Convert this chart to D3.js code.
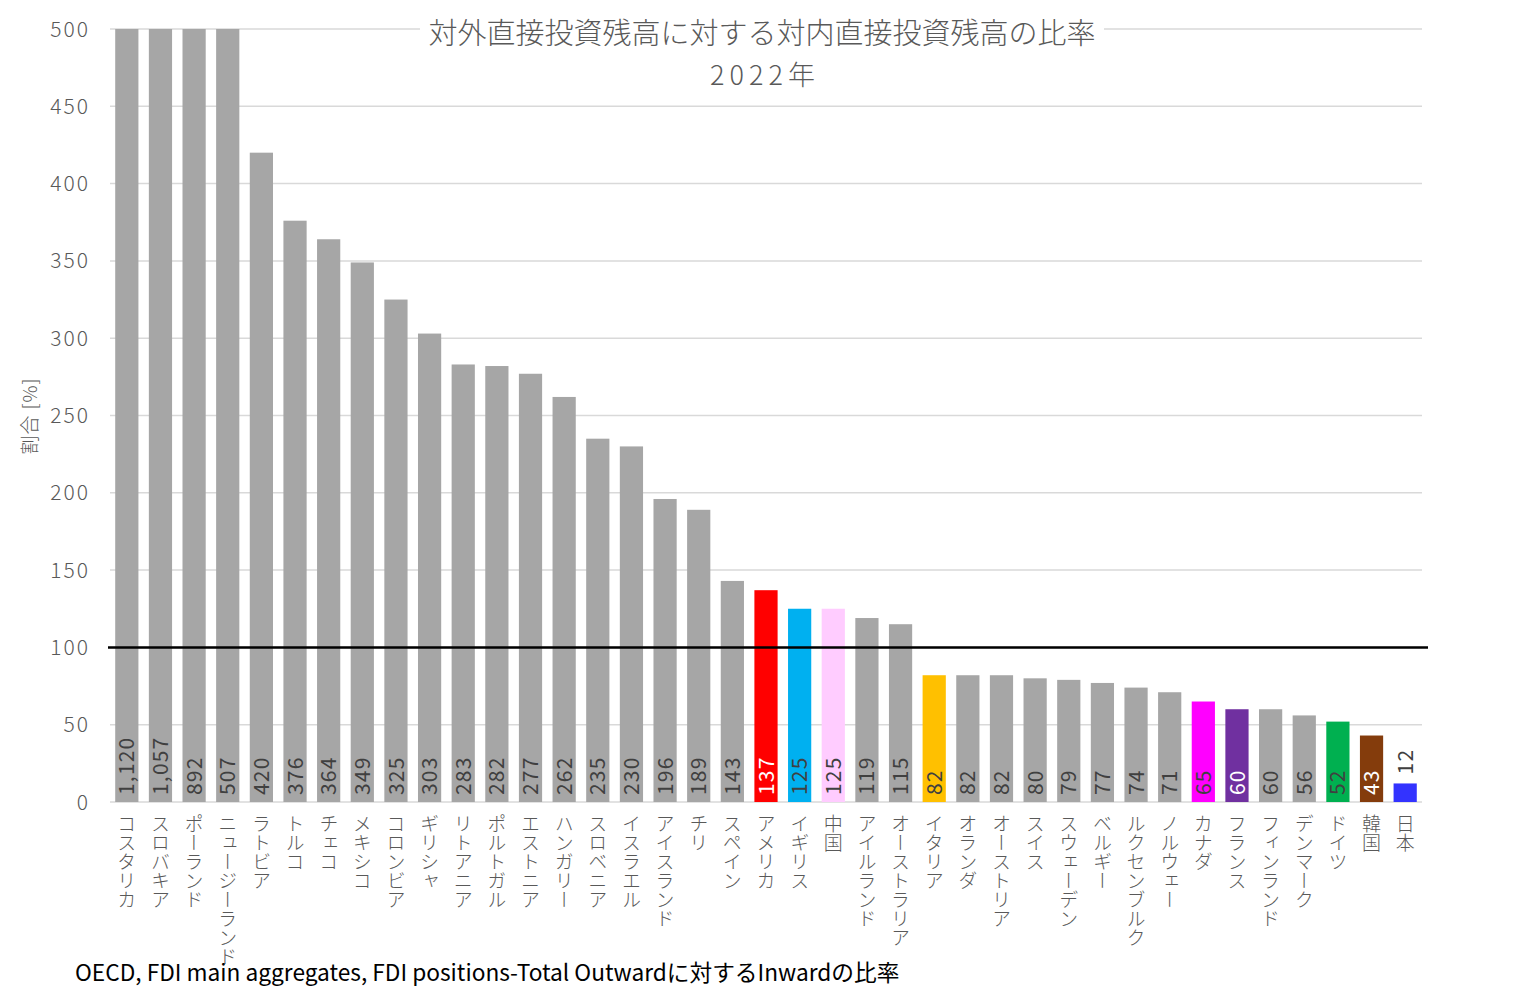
<!DOCTYPE html>
<html><head><meta charset="utf-8">
<script src="https://cdn.jsdelivr.net/npm/d3@7"></script>
<style>
html,body{margin:0;padding:0;background:#fff;}
svg text{font-family:"Noto Sans CJK JP","Noto Sans",sans-serif;font-weight:300;}
</style></head>
<body><svg id="c" width="1526" height="997"></svg>
<script>
const categories=["コスタリカ","スロバキア","ポーランド","ニュージーランド","ラトビア","トルコ","チェコ","メキシコ","コロンビア","ギリシャ","リトアニア","ポルトガル","エストニア","ハンガリー","スロベニア","イスラエル","アイスランド","チリ","スペイン","アメリカ","イギリス","中国","アイルランド","オーストラリア","イタリア","オランダ","オーストリア","スイス","スウェーデン","ベルギー","ルクセンブルク","ノルウェー","カナダ","フランス","フィンランド","デンマーク","ドイツ","韓国","日本"];
const values=[1120,1057,892,507,420,376,364,349,325,303,283,282,277,262,235,230,196,189,143,137,125,125,119,115,82,82,82,80,79,77,74,71,65,60,60,56,52,43,12];
const highlightNames=["アメリカ","イギリス","中国","イタリア","カナダ","フランス","ドイツ","韓国","日本"];
const highlightColors=["#FF0000","#00B0F0","#FFCCFF","#FFC000","#FF00FF","#7030A0","#00B050","#843C0C","#3333FF"];
const whiteLabelNames=["アメリカ","フランス","韓国"];
const yTicks=[0,50,100,150,200,250,300,350,400,450,500];
const title1="対外直接投資残高に対する対内直接投資残高の比率";
const title2="2022年";
const yLabel="割合 [%]";
const source="OECD, FDI main aggregates, FDI positions-Total Outwardに対するInwardの比率";
const refLine=100;

const svg=d3.select("#c");
const L=110,R=1422,T=29,B=802;
const x=d3.scaleBand().domain(categories).range([L,R]).paddingInner(0.31).paddingOuter(0.155);
const y=d3.scaleLinear().domain([0,500]).range([B,T]).clamp(true);
const colorOf=d=>{const i=highlightNames.indexOf(d);return i>=0?highlightColors[i]:"#A6A6A6";};

// gridlines
svg.append("g").selectAll("line").data(yTicks).join("line")
 .attr("x1",L).attr("x2",R).attr("y1",d=>y(d)).attr("y2",d=>y(d))
 .attr("stroke","#D9D9D9").attr("stroke-width",1.5);

// y tick labels
svg.append("g").selectAll("text").data(yTicks).join("text")
 .attr("x",90).attr("y",d=>y(d)).attr("dy","0.36em").attr("text-anchor","end")
 .attr("font-size",21).attr("letter-spacing",2).attr("fill","#595959").text(d=>d);

// bars
const data=categories.map((c,i)=>({c,v:values[i]}));
svg.append("g").selectAll("rect").data(data).join("rect")
 .attr("x",d=>x(d.c)).attr("width",x.bandwidth())
 .attr("y",d=>y(d.v)).attr("height",d=>B-y(d.v))
 .attr("fill",d=>colorOf(d.c));

// value labels
const fmt=d3.format(",");
svg.append("g").selectAll("text").data(data).join("text")
 .attr("transform",d=>{
   const cx=x(d.c)+x.bandwidth()/2;
   const inside=(B-y(d.v))>50;
   const yy=inside?B-7:y(d.v)-9;
   return `translate(${cx},${yy}) rotate(-90)`;})
 .attr("dy","0.36em").attr("text-anchor","start")
 .attr("font-size",21).attr("letter-spacing",1.2).style("font-weight",400)
 .attr("fill",d=>whiteLabelNames.includes(d.c)?"#FFFFFF":"#404040")
 .text(d=>fmt(d.v));

// reference line
svg.append("line").attr("x1",L-2).attr("x2",R+6).attr("y1",y(refLine)).attr("y2",y(refLine))
 .attr("stroke","#000").attr("stroke-width",2.5);

// category labels (vertical)
svg.append("g").selectAll("text").data(categories).join("text")
 .attr("x",d=>x(d)+x.bandwidth()/2).attr("y",814)
 .attr("writing-mode","vertical-rl")
 .style("text-orientation","upright")
 .attr("font-size",19).attr("fill","#595959").text(d=>d);

// title with white background
const tg=svg.append("g");
tg.append("rect").attr("x",420).attr("y",12).attr("width",684).attr("height",40).attr("fill","#fff");
tg.append("text").attr("x",762).attr("y",44).attr("text-anchor","middle").attr("font-size",29).attr("fill","#595959").text(title1);
tg.append("text").attr("x",765).attr("y",85).attr("text-anchor","middle").attr("font-size",27).attr("letter-spacing",5).attr("fill","#595959").text(title2);

// y label
svg.append("text").attr("transform","translate(30,416) rotate(-90)").attr("text-anchor","middle").attr("dy","0.36em")
 .attr("font-size",19).attr("letter-spacing",1).attr("fill","#595959").text(yLabel);

// source
svg.append("text").attr("x",75).attr("y",981).attr("font-size",22.7).style("font-weight",400).attr("fill","#000").text(source);
</script></body></html>
